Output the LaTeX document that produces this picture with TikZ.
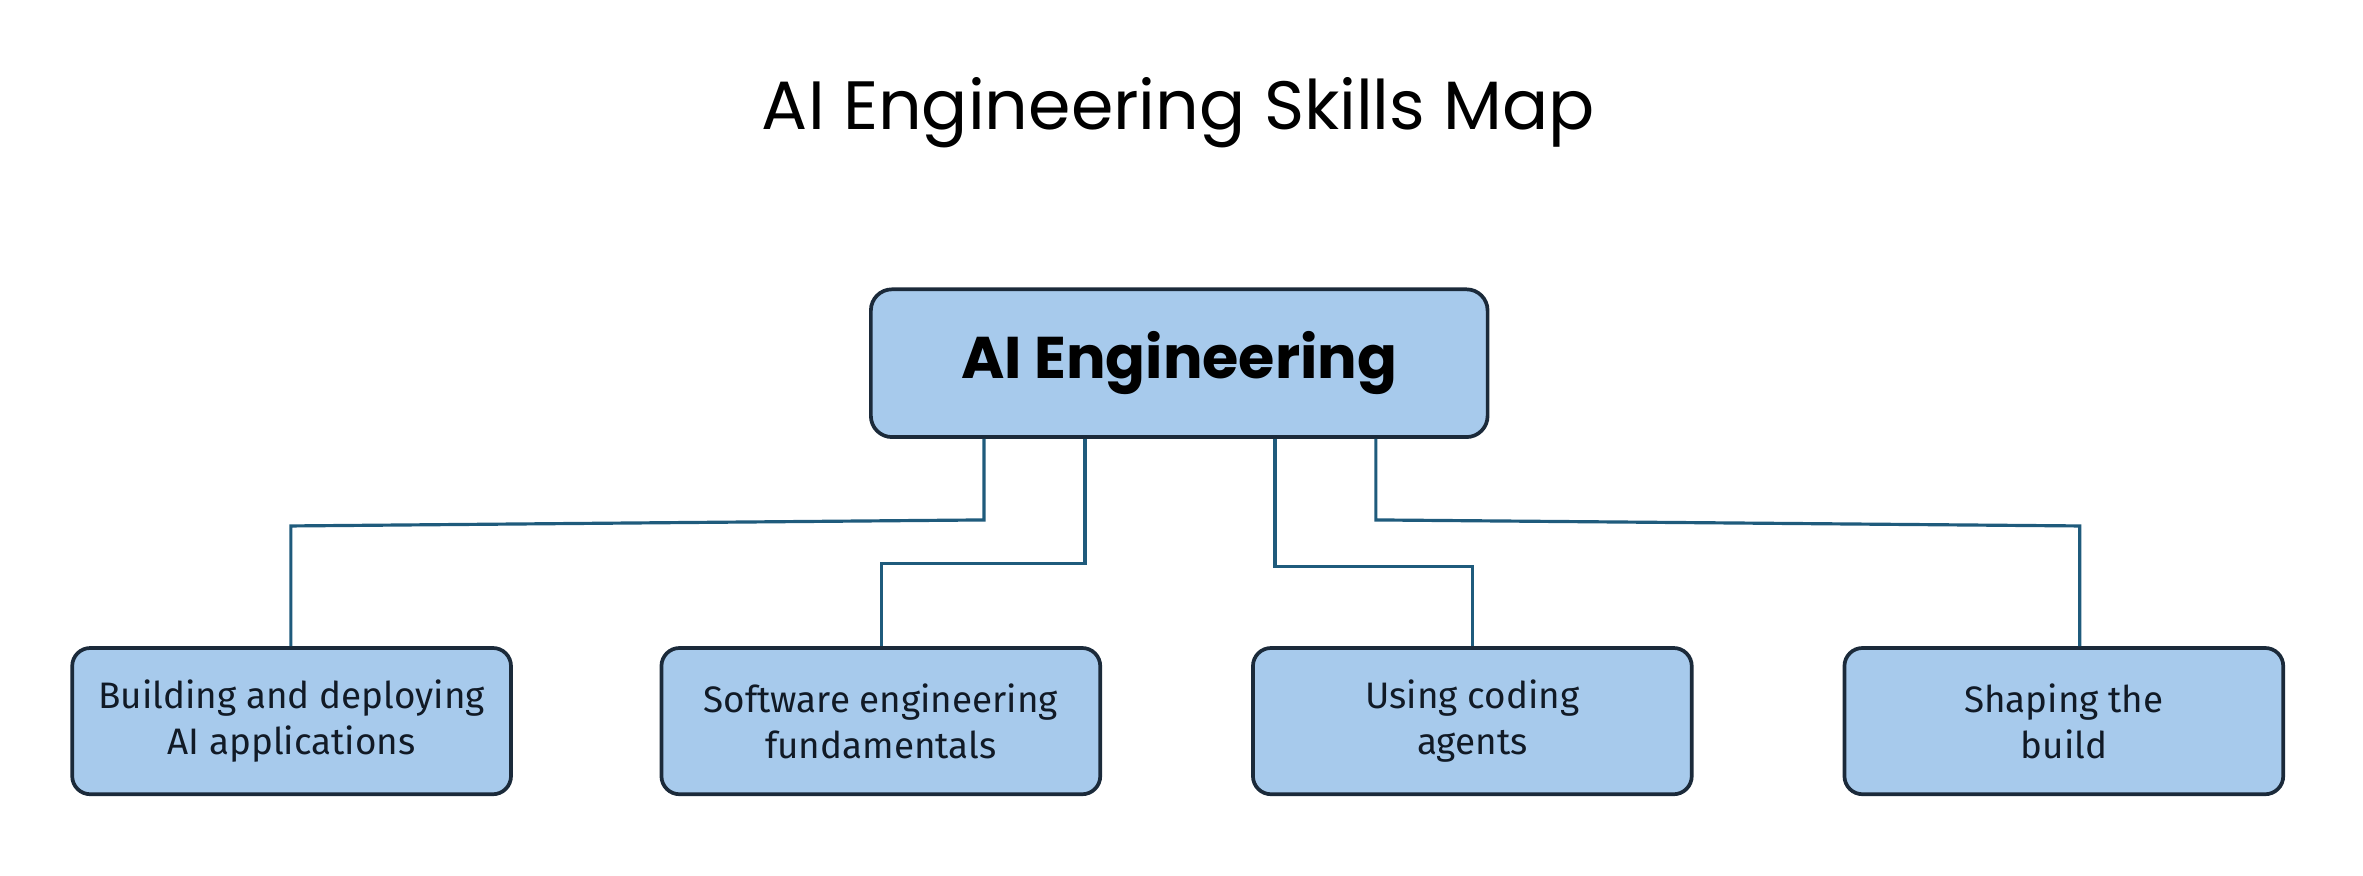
\documentclass[tikz,border=0pt]{standalone}
\usepackage{fontspec}
\setmainfont{Poppins}
\newfontfamily\childfont{Fira Sans}
\definecolor{boxfill}{HTML}{A7CAEC}
\definecolor{boxline}{HTML}{1B2A3A}
\definecolor{connline}{HTML}{1F5B7C}
\definecolor{childtext}{HTML}{111A26}
\begin{document}
\begin{tikzpicture}[x=0.01cm,y=-0.01cm,
  rootbox/.style={draw=boxline,fill=boxfill,line width=0.7pt,rounded corners=0.14cm,
    minimum width=4.09cm,minimum height=0.98cm,inner sep=0pt,
    font=\fontsize{11.1}{13}\selectfont\bfseries},
  childbox/.style={draw=boxline,fill=boxfill,line width=0.7pt,rounded corners=0.12cm,
    minimum width=2.91cm,minimum height=0.97cm,inner sep=0pt,align=center,text=childtext,
    font=\childfont\fontsize{6.95}{8.6}\selectfont},
  conn/.style={draw=connline,line width=0.6pt}]
\useasboundingbox (0,0) rectangle (1568,581);
\node (title) at (782,75) {\fontsize{12.9}{15}\selectfont AI Engineering Skills Map};
\node[rootbox] (ai) at (782.5,241) {AI Engineering};
\node[childbox] (b1) at (193.5,478.5) {Building and deploying\\AI applications};
\node[childbox] (b2) at (584.5,478.5) {Software engineering\\fundamentals};
\node[childbox] (b3) at (977,478.5) {Using coding\\agents};
\node[childbox] (b4) at (1369.5,478.5) {Shaping the\\build};
\coordinate (k1a) at (653,345);
\coordinate (k1b) at (193,349);
\coordinate (k2a) at (720,374);
\coordinate (k2b) at (585,374);
\coordinate (k3a) at (846,376);
\coordinate (k3b) at (977,376);
\coordinate (k4a) at (913,345);
\coordinate (k4b) at (1380,349);
\draw[conn] (ai.south -| k1a) -- (k1a) -- (k1b) -- (b1.north -| k1b);
\draw[conn] (ai.south -| k2a) -- (k2a) -- (k2b) -- (b2.north -| k2b);
\draw[conn] (ai.south -| k3a) -- (k3a) -- (k3b) -- (b3.north -| k3b);
\draw[conn] (ai.south -| k4a) -- (k4a) -- (k4b) -- (b4.north -| k4b);
\end{tikzpicture}
\end{document}
